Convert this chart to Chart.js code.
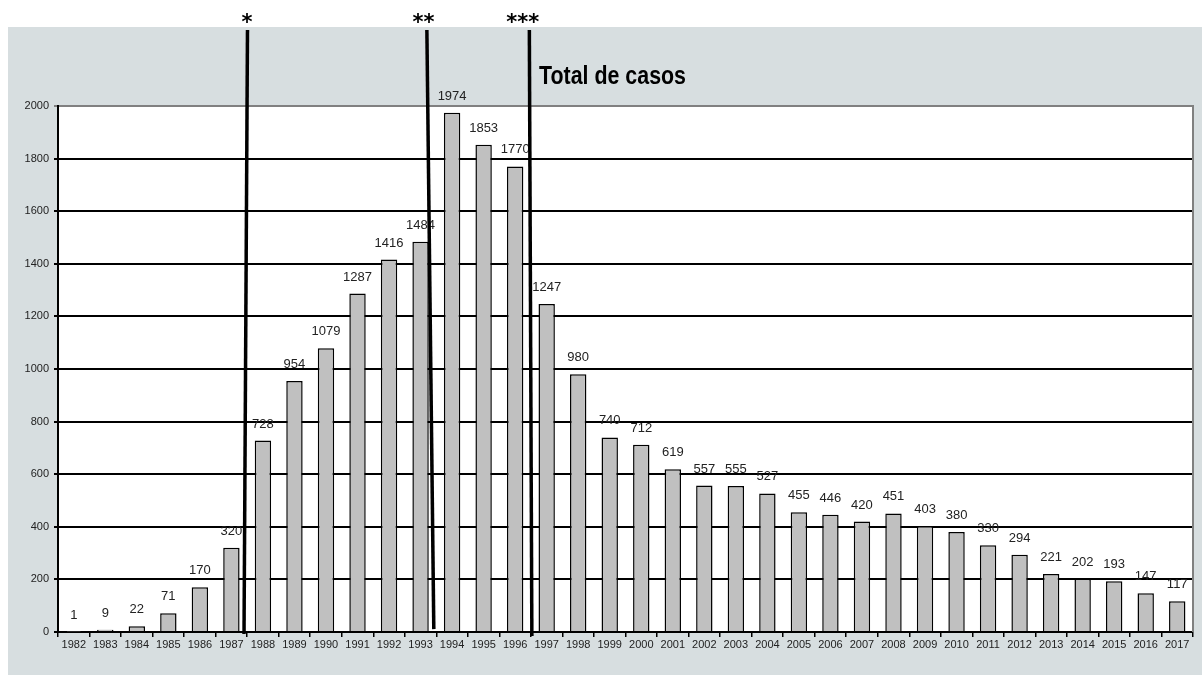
<!DOCTYPE html>
<html>
<head>
<meta charset="utf-8">
<script src="https://cdn.jsdelivr.net/npm/chart.js@4"></script>
<style>
html,body{margin:0;padding:0;background:#fff;}
#c{display:block;}
</style>
</head>
<body>
<canvas id="c" width="1202" height="675"></canvas>
<script>
const years = ['1982','1983','1984','1985','1986','1987','1988','1989','1990','1991','1992','1993','1994','1995','1996','1997','1998','1999','2000','2001','2002','2003','2004','2005','2006','2007','2008','2009','2010','2011','2012','2013','2014','2015','2016','2017'];
const totalCasos = [1,9,22,71,170,320,728,954,1079,1287,1416,1484,1974,1853,1770,1247,980,740,712,619,557,555,527,455,446,420,451,403,380,330,294,221,202,193,147,117];
const yTicks = [0,200,400,600,800,1000,1200,1400,1600,1800,2000];
const chartTitle = 'Total de casos';
// vertical marker lines: category position at top and bottom, y values at top and bottom
const markerLabels = ['*','**','***'];
const markerTopX = [5.51, 11.2, 14.45];
const markerBottomX = [5.4, 11.42, 14.53];
const markerTopY = [2289, 2289, 2289];
const markerBottomY = [-8, 11, -15];

const bgPlugin = {
  id: 'bg',
  beforeDraw(chart) {
    const ctx = chart.ctx, a = chart.chartArea;
    ctx.save();
    ctx.fillStyle = '#fff';
    ctx.fillRect(0, 0, chart.width, chart.height);
    ctx.fillStyle = '#d7dee0';
    ctx.fillRect(8, 27, chart.width - 8, chart.height - 27);
    ctx.fillStyle = '#fff';
    ctx.fillRect(a.left, a.top, a.right - a.left, a.bottom - a.top);
    ctx.restore();
  },
  afterDraw(chart) {
    const ctx = chart.ctx, a = chart.chartArea;
    const xs = chart.scales.x, ys = chart.scales.y;
    ctx.save();
    // right border
    ctx.strokeStyle = '#808080';
    ctx.lineWidth = 2;
    ctx.beginPath();
    ctx.moveTo(a.right, a.top - 1);
    ctx.lineTo(a.right, a.bottom);
    ctx.stroke();
    // data labels
    const meta = chart.getDatasetMeta(0);
    ctx.fillStyle = '#222';
    ctx.font = '13px "Liberation Sans", Arial, sans-serif';
    ctx.textAlign = 'center';
    ctx.textBaseline = 'alphabetic';
    meta.data.forEach((el, i) => {
      ctx.fillText(String(totalCasos[i]), el.x, el.y - 13);
    });
    // marker lines
    ctx.strokeStyle = '#000';
    ctx.lineWidth = 3.5;
    markerLabels.forEach((lab, i) => {
      const x1 = xs.getPixelForValue(markerTopX[i]);
      const x2 = xs.getPixelForValue(markerBottomX[i]);
      const y1 = ys.getPixelForValue(markerTopY[i]);
      const y2 = ys.getPixelForValue(markerBottomY[i]);
      ctx.beginPath();
      ctx.moveTo(x1, y1);
      ctx.lineTo(x2, y2);
      ctx.stroke();
      ctx.fillStyle = '#000';
      ctx.font = 'bold 21px "DejaVu Sans", "Liberation Sans", Arial, sans-serif';
      ctx.textAlign = 'center';
      ctx.fillText(lab, x1 - 3 * (lab.length - 1) - 0.5, y1 - 1);
    });
    // title
    ctx.fillStyle = '#000';
    ctx.font = 'bold 25px "Liberation Sans Narrow", "Liberation Sans", Arial, sans-serif';
    ctx.textAlign = 'left';
    ctx.fillText(chartTitle, 539, 84, 147);
    ctx.restore();
  }
};

new Chart(document.getElementById('c'), {
  type: 'bar',
  data: {
    labels: years,
    datasets: [{
      data: totalCasos,
      backgroundColor: '#c0c0c0',
      borderColor: '#000',
      borderWidth: 1.5,
      barPercentage: 0.52,
      categoryPercentage: 1.0
    }]
  },
  options: {
    responsive: false,
    animation: false,
    layout: { padding: { left: 8, right: 9, top: 106, bottom: 0 } },
    plugins: { legend: { display: false }, title: { display: false }, tooltip: { enabled: false } },
    scales: {
      x: {
        offset: true,
        grid: { display: true, drawOnChartArea: false, drawTicks: true, tickLength: 5, color: '#000', lineWidth: 1.5, offset: true },
        border: { color: '#000', width: 2 },
        ticks: { color: '#222', font: { size: 11, family: '"Liberation Sans", Arial, sans-serif' }, padding: 1, maxRotation: 0, autoSkip: false },
        afterFit(scale) { scale.height = 43; }
      },
      y: {
        min: 0, max: 2000,
        afterBuildTicks(scale) { scale.ticks = yTicks.map(v => ({ value: v })); },
        grid: {
          color: ctx => ctx.tick && ctx.tick.value === 2000 ? '#808080' : '#000',
          lineWidth: 2, tickLength: 4, drawTicks: true
        },
        border: { color: '#000', width: 2 },
        ticks: { color: '#222', font: { size: 11, family: '"Liberation Sans", Arial, sans-serif' }, padding: 5, callback: v => String(v) },
        afterFit(scale) { scale.width = 50; }
      }
    }
  },
  plugins: [bgPlugin]
});
</script>
</body>
</html>
